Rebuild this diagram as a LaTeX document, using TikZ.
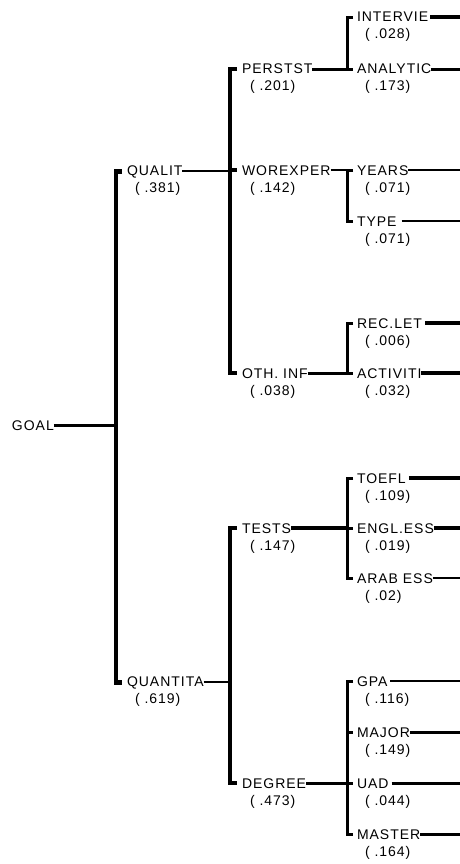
\documentclass[tikz,border=0pt]{standalone}
\usepackage{fontspec}
\setmainfont{Liberation Sans}[LetterSpace=7]
\begin{document}
\begin{tikzpicture}[x=1pt,y=-1pt,
  line join=miter,
  lbl/.style={anchor=base west, yshift=-5pt, inner sep=0pt, outer sep=0pt,
    font=\fontsize{14}{16}\selectfont},
  val/.style={anchor=base west, inner sep=0pt, outer sep=0pt,
    font=\fontsize{14}{16}\selectfont},
  wA/.style={line width=2pt},
  wB/.style={line width=3pt},
  wC/.style={line width=3.6pt},
  wD/.style={line width=4.3pt}]
\useasboundingbox[fill=white] (0,0) rectangle (459,864);
\newcommand\hnode[5]{%
  \node[lbl] (#1) at (#2,#3) {#4};
  \node[val] (#1v) at ([xshift=8pt,yshift=-17pt]#1.base west) {#5};}
% bar positions
\coordinate (b1) at (116,0);
\coordinate (b2) at (230,0);
\coordinate (b3) at (347,0);
\coordinate (edge) at (460,0);
% nodes
\node[lbl] (goal) at (12,425) {GOAL};
\hnode{qual}{127}{170}{QUALIT}{( .381)}
\hnode{quan}{127}{681}{QUANTITA}{( .619)}
\hnode{pers}{242}{69}{PERSTST}{( .201)}
\hnode{wor}{242}{170}{WOREXPER}{( .142)}
\hnode{oth}{242}{373}{OTH. INF}{( .038)}
\hnode{tests}{242}{528}{TESTS}{( .147)}
\hnode{deg}{242}{783}{DEGREE}{( .473)}
\hnode{intv}{357}{17}{INTERVIE}{( .028)}
\hnode{anal}{357}{69}{ANALYTIC}{( .173)}
\hnode{years}{357}{170}{YEARS}{( .071)}
\hnode{type}{357}{221}{TYPE}{( .071)}
\hnode{rec}{357}{323}{REC.LET}{( .006)}
\hnode{act}{357}{373}{ACTIVITI}{( .032)}
\hnode{toefl}{357}{478}{TOEFL}{( .109)}
\hnode{engl}{357}{528}{ENGL.ESS}{( .019)}
\hnode{arab}{357}{578}{ARAB ESS}{( .02)}
\hnode{gpa}{357}{681}{GPA}{( .116)}
\hnode{major}{357}{732}{MAJOR}{( .149)}
\hnode{uad}{357}{783}{UAD}{( .044)}
\hnode{mast}{357}{834}{MASTER}{( .164)}
% level 1
\draw[wB] (goal.east) -- (b1 |- goal.east);
\draw[wD] ([xshift=-5pt]qual.west) -- (b1 |- qual.west) -- (b1 |- quan.west) -- ([xshift=-5pt]quan.west);
% level 2
\draw[wA] (qual.east) -- (b2 |- qual.east);
\draw[wA] (quan.east) -- (b2 |- quan.east);
\draw[wD] ([xshift=-5pt]pers.west) -- (b2 |- pers.west) -- (b2 |- oth.west) -- ([xshift=-5pt]oth.west);
\draw[wD] (b2 |- wor.west) -- ([xshift=-5pt]wor.west);
\draw[wD] ([xshift=-5pt]tests.west) -- (b2 |- tests.west) -- (b2 |- deg.west) -- ([xshift=-5pt]deg.west);
% level 3
\draw[wB] (pers.east) -- (b3 |- pers.east);
\draw[wA] (wor.east) -- (b3 |- wor.east);
\draw[wB] (oth.east) -- (b3 |- oth.east);
\draw[wC] (tests.east) -- (b3 |- tests.east);
\draw[wB] (deg.east) -- (b3 |- deg.east);
\draw[wB] ([xshift=-4pt]intv.west) -- (b3 |- intv.west) -- (b3 |- anal.west) -- ([xshift=-4pt]anal.west);
\draw[wB] ([xshift=-4pt]years.west) -- (b3 |- years.west) -- (b3 |- type.west) -- ([xshift=-4pt]type.west);
\draw[wB] ([xshift=-4pt]rec.west) -- (b3 |- rec.west) -- (b3 |- act.west) -- ([xshift=-4pt]act.west);
\draw[wB] ([xshift=-4pt]toefl.west) -- (b3 |- toefl.west) -- (b3 |- arab.west) -- ([xshift=-4pt]arab.west);
\draw[wB] (b3 |- engl.west) -- ([xshift=-4pt]engl.west);
\draw[wB] ([xshift=-4pt]gpa.west) -- (b3 |- gpa.west) -- (b3 |- mast.west) -- ([xshift=-4pt]mast.west);
\draw[wB] (b3 |- major.west) -- ([xshift=-4pt]major.west);
\draw[wB] (b3 |- uad.west) -- ([xshift=-4pt]uad.west);
% leaves
\draw[wD] ([xshift=2pt]intv.east) -- (edge |- intv.east);
\draw[wB] (anal.east) -- (edge |- anal.east);
\draw[wA] (years.east) -- (edge |- years.east);
\draw[wA] ([xshift=5pt]type.east) -- (edge |- type.east);
\draw[wD] ([xshift=3pt]rec.east) -- (edge |- rec.east);
\draw[wC] (act.east) -- (edge |- act.east);
\draw[wD] ([xshift=3pt]toefl.east) -- (edge |- toefl.east);
\draw[wC] (engl.east) -- (edge |- engl.east);
\draw[wA] (arab.east) -- (edge |- arab.east);
\draw[wA] ([xshift=3pt]gpa.east) -- (edge |- gpa.east);
\draw[wB] (major.east) -- (edge |- major.east);
\draw[wB] ([xshift=3pt]uad.east) -- (edge |- uad.east);
\draw[wB] (mast.east) -- (edge |- mast.east);
\end{tikzpicture}
\end{document}
